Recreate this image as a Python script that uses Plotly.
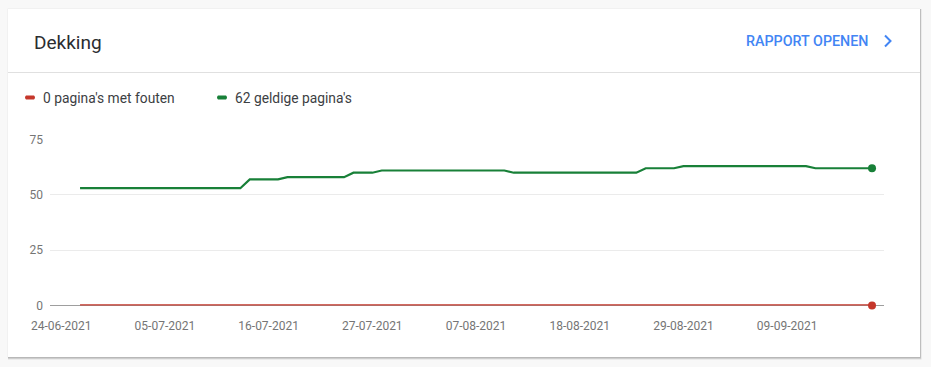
import plotly.graph_objects as go
import pandas as pd

# ---- data ----
start_date = "2021-06-26"
end_date = "2021-09-18"
valid_pages = ([53] * 18 + [57] * 4 + [58] * 7 + [60] * 3 + [61] * 14 +
               [60] * 14 + [62] * 4 + [63] * 14 + [62] * 7)
error_pages = [0] * 85
tick_dates = ["2021-06-24", "2021-07-05", "2021-07-16", "2021-07-27",
              "2021-08-07", "2021-08-18", "2021-08-29", "2021-09-09"]
tick_labels = ["24-06-2021", "05-07-2021", "16-07-2021", "27-07-2021",
               "07-08-2021", "18-08-2021", "29-08-2021", "09-09-2021"]
y_ticks = [0, 25, 50, 75]
title = "Dekking"
link_text = "RAPPORT OPENEN"
legend_labels = ["0 pagina's met fouten", "62 geldige pagina's"]

dates = pd.date_range(start_date, end_date, freq="D")

W, H = 931, 367
RED = "#c5372b"
GREEN = "#188038"
FONT = "Roboto"

def px(x):
    return x / W

def py(y):
    return 1 - y / H

fig = go.Figure()

fig.add_trace(go.Scatter(
    x=dates, y=valid_pages, mode="lines",
    line=dict(color=GREEN, width=2.2), hoverinfo="skip", showlegend=False))
fig.add_trace(go.Scatter(
    x=[dates[-1]], y=[valid_pages[-1]], mode="markers",
    marker=dict(color=GREEN, size=8), hoverinfo="skip", showlegend=False))
fig.add_trace(go.Scatter(
    x=dates, y=error_pages, mode="lines",
    line=dict(color=RED, width=2.7), hoverinfo="skip", showlegend=False,
    cliponaxis=False))
fig.add_trace(go.Scatter(
    x=[dates[-1]], y=[error_pages[-1]], mode="markers",
    marker=dict(color=RED, size=8), hoverinfo="skip", showlegend=False,
    cliponaxis=False))

shapes = []
# card shadow + card
shapes.append(dict(type="rect", xref="paper", yref="paper", layer="below",
                   x0=px(8), x1=px(921.5), y0=py(359.5), y1=py(9),
                   fillcolor="rgba(0,0,0,0.10)", line=dict(width=0)))
shapes.append(dict(type="rect", xref="paper", yref="paper", layer="below",
                   x0=px(8), x1=px(921), y0=py(358.5), y1=py(9),
                   fillcolor="rgba(0,0,0,0.14)", line=dict(width=0)))
shapes.append(dict(type="rect", xref="paper", yref="paper", layer="below",
                   x0=px(7.5), x1=px(920), y0=py(357.5), y1=py(8.5),
                   fillcolor="rgba(0,0,0,0.06)", line=dict(width=0)))
shapes.append(dict(type="rect", xref="paper", yref="paper", layer="below",
                   x0=px(8), x1=px(920), y0=py(357), y1=py(9),
                   fillcolor="#ffffff", line=dict(width=0)))
# divider
shapes.append(dict(type="line", xref="paper", yref="paper", layer="below",
                   x0=px(8), x1=px(920), y0=py(72.5), y1=py(72.5),
                   line=dict(color="#e0e0e0", width=1)))
# chevron
shapes.append(dict(type="path", xref="paper", yref="paper",
                   path=f"M {px(885)},{py(35.5)} L {px(890.5)},{py(41)} L {px(885)},{py(46.5)}",
                   line=dict(color="#4285f4", width=2)))
# legend swatches
for x0, col in [(24, RED), (216, GREEN)]:
    shapes.append(dict(type="path", xref="paper", yref="paper",
                       path=(f"M {px(x0 + 2)},{py(95.5)} L {px(x0 + 10)},{py(95.5)} "
                             f"Q {px(x0 + 12)},{py(97.5)} {px(x0 + 10)},{py(99.5)} "
                             f"L {px(x0 + 2)},{py(99.5)} "
                             f"Q {px(x0)},{py(97.5)} {px(x0 + 2)},{py(95.5)} Z"),
                       fillcolor=col, line=dict(width=0)))

annotations = [
    dict(text=title, x=px(31.5), y=py(42), xref="paper", yref="paper",
         xanchor="left", yanchor="middle", showarrow=False,
         font=dict(family=FONT, size=19, color="#2b2d30")),
    dict(text=link_text, x=px(743.5), y=py(41), xref="paper", yref="paper",
         xanchor="left", yanchor="middle", showarrow=False,
         font=dict(family=FONT, size=14.3, color="#4285f4", weight=500)),
    dict(text=legend_labels[0], x=px(41), y=py(97.5), xref="paper", yref="paper",
         xanchor="left", yanchor="middle", showarrow=False,
         font=dict(family=FONT, size=13.8, color="#3c4043")),
    dict(text=legend_labels[1], x=px(233), y=py(97.5), xref="paper", yref="paper",
         xanchor="left", yanchor="middle", showarrow=False,
         font=dict(family=FONT, size=13.8, color="#3c4043")),
]

fig.update_layout(
    width=W, height=H,
    margin=dict(l=0, r=0, t=0, b=0, pad=0),
    paper_bgcolor="#f8f8f8",
    plot_bgcolor="rgba(0,0,0,0)",
    shapes=shapes,
    annotations=annotations,
    font=dict(family=FONT),
    xaxis=dict(
        domain=[px(50), px(884)],
        range=["2021-06-22 19:30", "2021-09-19 06:30"],
        tickmode="array", tickvals=tick_dates, ticktext=tick_labels,
        showgrid=False, zeroline=False, automargin=False,
        showline=False,
        ticks="", tickfont=dict(family=FONT, size=12, color="#757575"),
        ticklabelstandoff=11,
    ),
    yaxis=dict(
        domain=[py(305.5), py(139.5)],
        range=[0, 75],
        tickmode="array", tickvals=y_ticks, automargin=False,
        showgrid=True, gridcolor="#ebebeb", gridwidth=1,
        zeroline=True, zerolinecolor="#9e9e9e", zerolinewidth=1,
        showline=False, ticks="",
        tickfont=dict(family=FONT, size=12, color="#757575"),
        ticklabelstandoff=6,
    ),
)

fig.write_html(
    "out.html",
    config={"displayModeBar": False},
    post_script="document.body.style.margin='0';document.body.style.overflow='hidden';",
)
